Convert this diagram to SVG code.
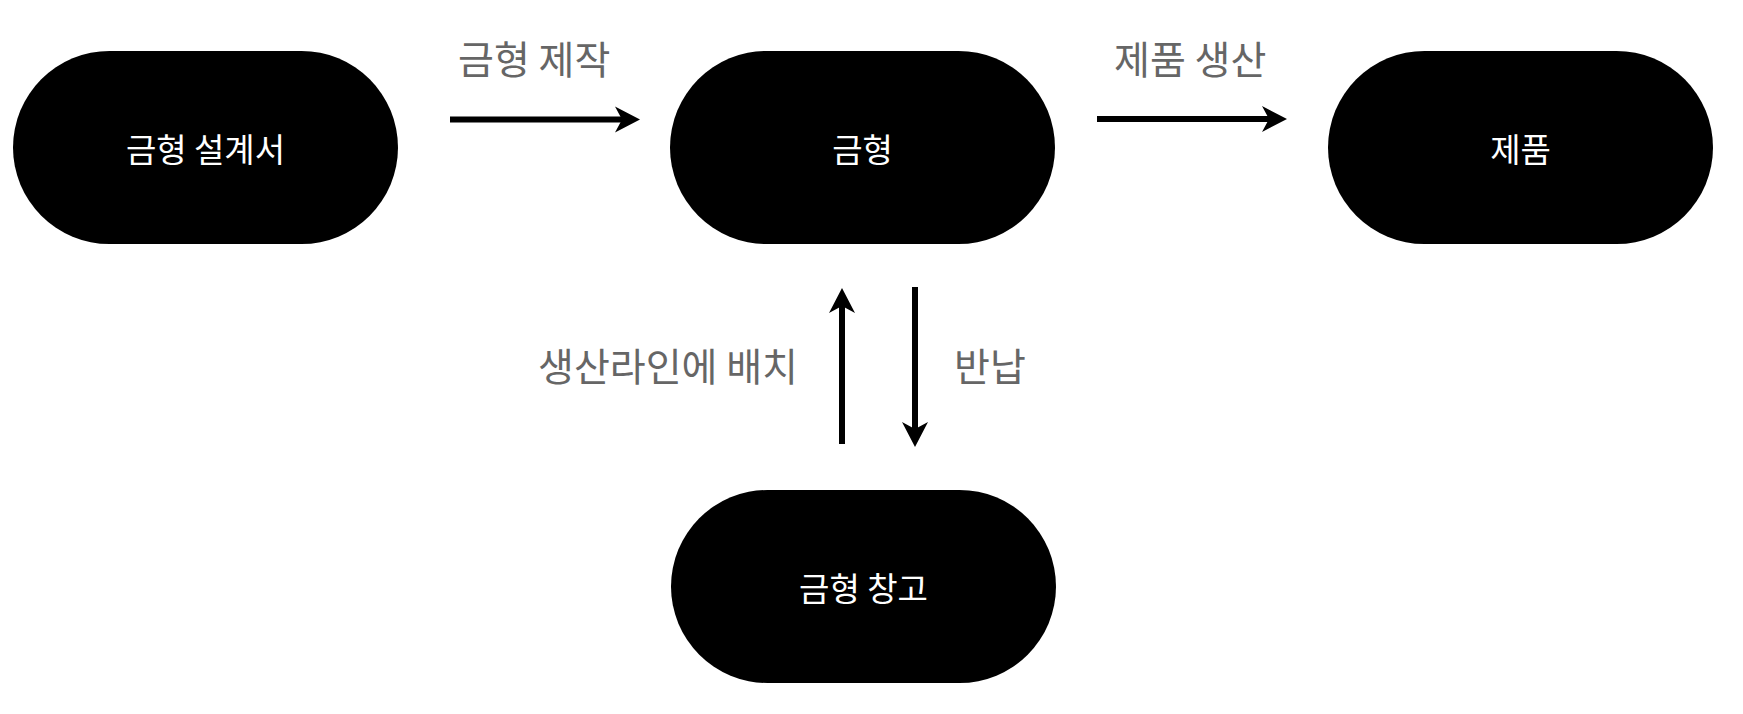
<svg xmlns="http://www.w3.org/2000/svg" width="1743" height="714" viewBox="0 0 1743 714">
  <style>
    .node rect { fill: #000000; }
    .node text { fill: #ffffff; font-family: "Noto Sans CJK KR", "Noto Sans", sans-serif; font-size: 33px; font-weight: 400; text-anchor: middle; dominant-baseline: central; }
    .label { fill: #666666; font-family: "Noto Sans CJK KR", "Noto Sans", sans-serif; font-size: 39px; dominant-baseline: central; }
    .edge { stroke: #000000; stroke-width: 6; fill: none; marker-end: url(#arrow); }
  </style>
  <defs>
    <marker id="arrow" markerUnits="userSpaceOnUse" markerWidth="26" markerHeight="28" refX="7" refY="13" orient="auto" viewBox="0 0 26 26">
      <path d="M0,0 L25,13 L0,26 L7,13 Z" fill="#000000"/>
    </marker>
  </defs>
  <rect width="1743" height="714" fill="#ffffff"/>

  <g id="node-design" class="node">
    <rect x="13" y="51" width="385" height="193" rx="96.5" ry="96.5"/>
    <text x="205.5" y="147.5">금형 설계서</text>
  </g>
  <g id="node-mold" class="node">
    <rect x="670" y="51" width="385" height="193" rx="96.5" ry="96.5"/>
    <text x="862.5" y="147.5">금형</text>
  </g>
  <g id="node-product" class="node">
    <rect x="1328" y="51" width="385" height="193" rx="96.5" ry="96.5"/>
    <text x="1520.5" y="147.5">제품</text>
  </g>
  <g id="node-storage" class="node">
    <rect x="671" y="490" width="385" height="193" rx="96.5" ry="96.5"/>
    <text x="863.5" y="586.5">금형 창고</text>
  </g>

  <g id="connectors">
    <line class="edge" x1="450" y1="119.5" x2="622" y2="119.5"/>
    <line class="edge" x1="1097" y1="119" x2="1269" y2="119"/>
    <line class="edge" x1="842" y1="444" x2="842" y2="306"/>
    <line class="edge" x1="915" y1="287" x2="915" y2="429"/>
    <text class="label" x="458" y="57">금형 제작</text>
    <text class="label" x="1114" y="57">제품 생산</text>
    <text class="label" x="798" y="363.5" text-anchor="end">생산라인에 배치</text>
    <text class="label" x="954" y="363.5">반납</text>
  </g>
</svg>
